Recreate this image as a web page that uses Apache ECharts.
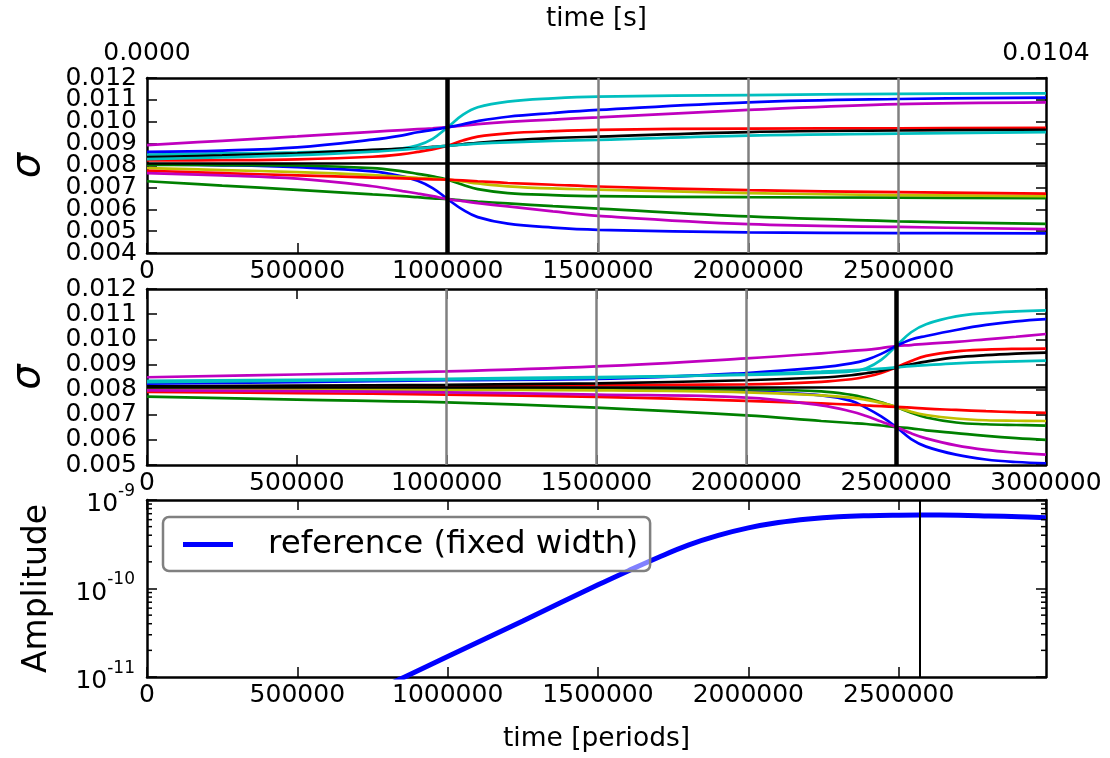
<!DOCTYPE html>
<html><head><meta charset="utf-8">
<script src="https://cdn.jsdelivr.net/npm/echarts@6/dist/echarts.min.js"></script>
<style>html,body{margin:0;padding:0;background:#fff}#c{width:1110px;height:758px}</style>
</head><body><div id="c"></div>
<script>
// ---------------- data ----------------
const periodsTop = [0, 250000, 500000, 750000, 850000, 900000, 950000, 1000000, 1050000, 1100000, 1200000, 1350000, 1500000, 2000000, 2500000, 2990000];
const topBlueA    = [0.00862, 0.00868, 0.00883, 0.00918, 0.00938, 0.00952, 0.00963, 0.00975, 0.00988, 0.01003, 0.01023, 0.01040, 0.01054, 0.01089, 0.01104, 0.01110];
const topMagentaA = [0.00893, 0.00913, 0.00933, 0.00954, 0.00962, 0.00966, 0.00970, 0.00975, 0.00982, 0.00989, 0.00999, 0.01010, 0.01020, 0.01054, 0.01081, 0.01089];
const topCyanA    = [0.00850, 0.00855, 0.00860, 0.00870, 0.00878, 0.00892, 0.00922, 0.00975, 0.01031, 0.01066, 0.01092, 0.01107, 0.01115, 0.01122, 0.01127, 0.01130];
const topRedA     = [0.00823, 0.00824, 0.00828, 0.00840, 0.00852, 0.00862, 0.00874, 0.00890, 0.00914, 0.00932, 0.00947, 0.00957, 0.00963, 0.00969, 0.00970, 0.00972];
const topBlack    = [0.00838, 0.00846, 0.00856, 0.00871, 0.00877, 0.00880, 0.00885, 0.00890, 0.00897, 0.00904, 0.00914, 0.00925, 0.00932, 0.00953, 0.00960, 0.00963];
const topCyanB    = [0.00829, 0.00837, 0.00847, 0.00863, 0.00872, 0.00878, 0.00884, 0.00890, 0.00895, 0.00900, 0.00906, 0.00912, 0.00917, 0.00937, 0.00946, 0.00953];
const topGreenA   = [0.00803, 0.00802, 0.00800, 0.00788, 0.00773, 0.00762, 0.00750, 0.00735, 0.00712, 0.00692, 0.00674, 0.00665, 0.00660, 0.00655, 0.00653, 0.00651];
const topYellow   = [0.00788, 0.00779, 0.00770, 0.00756, 0.00748, 0.00744, 0.00740, 0.00735, 0.00727, 0.00718, 0.00705, 0.00695, 0.00690, 0.00674, 0.00665, 0.00660];
const topRedB     = [0.00776, 0.00765, 0.00755, 0.00745, 0.00741, 0.00739, 0.00737, 0.00735, 0.00732, 0.00728, 0.00720, 0.00712, 0.00704, 0.00687, 0.00678, 0.00671];
const topBlueB    = [0.00805, 0.00801, 0.00792, 0.00773, 0.00750, 0.00730, 0.00697, 0.00646, 0.00598, 0.00564, 0.00534, 0.00516, 0.00506, 0.00494, 0.00491, 0.00490];
const topMagentaB = [0.00765, 0.00755, 0.00740, 0.00705, 0.00683, 0.00672, 0.00660, 0.00646, 0.00637, 0.00628, 0.00613, 0.00590, 0.00570, 0.00532, 0.00519, 0.00509];
const topGreenB   = [0.00728, 0.00708, 0.00689, 0.00668, 0.00660, 0.00655, 0.00650, 0.00646, 0.00640, 0.00635, 0.00627, 0.00614, 0.00603, 0.00567, 0.00545, 0.00533];

const periodsMid = [0, 500000, 1000000, 1500000, 2000000, 2250000, 2350000, 2400000, 2450000, 2500000, 2550000, 2600000, 2700000, 2800000, 2900000, 3000000];
const midMagentaA = [0.00849, 0.00860, 0.00872, 0.00892, 0.00924, 0.00944, 0.00954, 0.00958, 0.00965, 0.00973, 0.00977, 0.00982, 0.00990, 0.01000, 0.01010, 0.01021];
const midBlueA    = [0.00824, 0.00830, 0.00837, 0.00842, 0.00866, 0.00888, 0.00904, 0.00918, 0.00942, 0.00973, 0.00999, 0.01013, 0.01037, 0.01057, 0.01071, 0.01080];
const midCyanA    = [0.00835, 0.00839, 0.00843, 0.00850, 0.00858, 0.00866, 0.00872, 0.00885, 0.00918, 0.00973, 0.01028, 0.01060, 0.01091, 0.01104, 0.01111, 0.01115];
const midCyanB    = [0.00830, 0.00835, 0.00840, 0.00846, 0.00861, 0.00871, 0.00876, 0.00879, 0.00883, 0.00888, 0.00893, 0.00897, 0.00904, 0.00909, 0.00912, 0.00915];
const midBlack    = [0.00813, 0.00816, 0.00819, 0.00825, 0.00837, 0.00848, 0.00857, 0.00865, 0.00874, 0.00888, 0.00900, 0.00911, 0.00928, 0.00937, 0.00943, 0.00947];
const midRedA     = [0.00810, 0.00812, 0.00815, 0.00818, 0.00821, 0.00831, 0.00841, 0.00851, 0.00866, 0.00888, 0.00914, 0.00934, 0.00952, 0.00959, 0.00962, 0.00963];
const midGreenA   = [0.00808, 0.00808, 0.00808, 0.00806, 0.00801, 0.00793, 0.00779, 0.00766, 0.00749, 0.00731, 0.00708, 0.00689, 0.00669, 0.00662, 0.00659, 0.00657];
const midYellow   = [0.00803, 0.00801, 0.00799, 0.00797, 0.00789, 0.00777, 0.00768, 0.00759, 0.00747, 0.00731, 0.00712, 0.00699, 0.00685, 0.00678, 0.00676, 0.00675];
const midBlueB    = [0.00806, 0.00806, 0.00806, 0.00803, 0.00793, 0.00777, 0.00755, 0.00727, 0.00693, 0.00651, 0.00603, 0.00573, 0.00541, 0.00522, 0.00512, 0.00507];
const midMagentaB = [0.00797, 0.00794, 0.00789, 0.00780, 0.00768, 0.00737, 0.00713, 0.00695, 0.00673, 0.00651, 0.00626, 0.00606, 0.00578, 0.00560, 0.00549, 0.00541];
const midRedB     = [0.00791, 0.00786, 0.00780, 0.00771, 0.00755, 0.00745, 0.00740, 0.00737, 0.00734, 0.00731, 0.00728, 0.00724, 0.00719, 0.00714, 0.00710, 0.00707];
const midGreenB   = [0.00772, 0.00760, 0.00749, 0.00728, 0.00697, 0.00675, 0.00667, 0.00663, 0.00657, 0.00651, 0.00646, 0.00638, 0.00627, 0.00616, 0.00607, 0.00600];

const sigmaRef = 0.0081;
const topGreyMarkers = [1500000, 2000000, 2500000];
const topBlackMarkers = [1000000];
const midGreyMarkers = [1000000, 1500000, 2000000];
const midBlackMarkers = [2500000];
const ampMarkers = [2570000];

const ampName = 'reference (fixed width)';
const ampPeriods = [800000, 857000, 1000000, 1250000, 1500000, 1600000, 1700000, 1800000, 1900000, 2000000, 2100000, 2200000, 2300000, 2400000, 2500000, 2570000, 2700000, 2800000, 2900000, 2990000];
const ampValues  = [8.1e-12, 1.0e-11, 1.7e-11, 4.3e-11, 1.1e-10, 1.58e-10, 2.24e-10, 3.09e-10, 3.98e-10, 4.84e-10, 5.56e-10, 6.1e-10, 6.46e-10, 6.64e-10, 6.73e-10, 6.76e-10, 6.73e-10, 6.6e-10, 6.46e-10, 6.3e-10];
const logMinorTicks = [2e-11, 3e-11, 4e-11, 5e-11, 6e-11, 7e-11, 8e-11, 9e-11, 2e-10, 3e-10, 4e-10, 5e-10, 6e-10, 7e-10, 8e-10, 9e-10];

const secondsRange = [0, 0.0104];
const periodsMaxTop = 2990000;
const periodsMaxMid = 3000000;

// ---------------- styling ----------------
const FONT = 'DejaVu Sans';
const TICK_FS = 25;
const C = {b:'#0000ff', g:'#008000', r:'#ff0000', c:'#00bfbf', m:'#bf00bf', y:'#bfbf00', k:'#000000'};

const topLines = [
  [topBlueB, C.b], [topGreenA, C.g], [topRedA, C.r], [topCyanA, C.c], [topMagentaA, C.m], [topYellow, C.y],
  [topBlack, C.k], [topBlueA, C.b], [topGreenB, C.g], [topRedB, C.r], [topCyanB, C.c], [topMagentaB, C.m]
];
const midLines = [
  [midBlueB, C.b], [midGreenA, C.g], [midRedA, C.r], [midCyanA, C.c], [midMagentaA, C.m], [midYellow, C.y],
  [midBlack, C.k], [midBlueA, C.b], [midGreenB, C.g], [midRedB, C.r], [midCyanB, C.c], [midMagentaB, C.m]
];

const axisLine = {show: true, onZero: false, lineStyle: {color: '#000', width: 2.5}};
const tickIn = {show: true, inside: true, length: 10, lineStyle: {color: '#000', width: 1.5}};
const lblBase = {color: '#000', fontSize: TICK_FS, fontFamily: FONT, hideOverlap: false};
const intFmt = v => String(Math.round(v));

function xPeriods(grid, pos, max, showLabels, extra) {
  return Object.assign({
    type: 'value', gridIndex: grid, position: pos, min: 0, max: max, interval: 500000,
    axisLine: axisLine, axisTick: tickIn, splitLine: {show: false},
    axisLabel: Object.assign({}, lblBase, {show: showLabels, margin: 6, formatter: intFmt,
      showMinLabel: true, showMaxLabel: max % 500000 === 0})
  }, extra || {});
}
// parity: null = all labels, 0 = even thousandths only, 1 = odd thousandths only
function yLin(grid, pos, min, max, showLabels, parity, extra) {
  const fmt = v => {
    const k = Math.round(v * 1000);
    if (parity === null || k % 2 === parity) return v.toFixed(3);
    return '';
  };
  return Object.assign({
    type: 'value', gridIndex: grid, position: pos, min: min, max: max, interval: 0.001,
    axisLine: axisLine, axisTick: tickIn, splitLine: {show: false},
    axisLabel: Object.assign({}, lblBase, {show: showLabels, margin: 10, formatter: fmt,
      showMinLabel: true, showMaxLabel: true})
  }, extra || {});
}
function yLog(grid, pos, showLabels, extra) {
  return Object.assign({
    type: 'log', logBase: 10, gridIndex: grid, position: pos, min: 1e-11, max: 1e-9,
    axisLine: axisLine, axisTick: tickIn, splitLine: {show: false},
    axisLabel: {show: showLabels, margin: 12, color: '#000', fontFamily: FONT, showMinLabel: true, showMaxLabel: true,
      formatter: v => '{b|10}{s|' + Math.round(Math.log10(v)) + '}',
      rich: {b: {fontSize: TICK_FS, fontFamily: FONT, color: '#000', verticalAlign: 'bottom', lineHeight: 34},
             s: {fontSize: 17, fontFamily: FONT, color: '#000', verticalAlign: 'top', lineHeight: 17}}}
  }, extra || {});
}

function lineSeries(xi, yi, periods, vals, color) {
  return {type: 'line', xAxisIndex: xi, yAxisIndex: yi, data: periods.map((t, i) => [t, vals[i]]),
    showSymbol: false, symbol: 'none', smooth: 0.4, silent: true,
    lineStyle: {color: color, width: 2.7}, itemStyle: {color: color}, z: 2};
}
function markerSeries(xi, yi, greys, blacks, blackWidth, hLine) {
  const data = [];
  greys.forEach(v => data.push({xAxis: v, lineStyle: {color: '#808080', width: 2.5, type: 'solid'}}));
  blacks.forEach(v => data.push({xAxis: v, lineStyle: {color: '#000', width: blackWidth, type: 'solid'}}));
  if (hLine !== null) data.push({yAxis: hLine, lineStyle: {color: '#000', width: 2.5, type: 'solid'}});
  return {type: 'line', xAxisIndex: xi, yAxisIndex: yi, data: [], silent: true, z: 3,
    markLine: {symbol: ['none', 'none'], precision: 8, silent: true, animation: false, label: {show: false}, data: data}};
}

const sigmaName = {name: 'σ', nameLocation: 'middle', nameRotate: 90, nameGap: 98,
  nameTextStyle: {color: '#000', fontSize: 40, fontStyle: 'italic', fontFamily: FONT}};

// yAxis indices: 0 top-left(even labels), 1 top-right, 2 mid-left, 3 mid-right, 4 log-left, 5 log-right, 6 top-left(odd labels)
const series = [];
topLines.forEach(([v, c]) => series.push(lineSeries(0, 0, periodsTop, v, c)));
series.push(markerSeries(0, 0, topGreyMarkers, topBlackMarkers, 4.5, sigmaRef));
midLines.forEach(([v, c]) => series.push(lineSeries(2, 2, periodsMid, v, c)));
series.push(markerSeries(2, 2, midGreyMarkers, midBlackMarkers, 4.5, sigmaRef));
series.push({type: 'line', name: ampName, xAxisIndex: 4, yAxisIndex: 4,
  data: ampPeriods.map((t, i) => [t, ampValues[i]]), showSymbol: false, symbol: 'none', smooth: 0.4,
  lineStyle: {color: C.b, width: 5}, itemStyle: {color: C.b}, z: 2});
series.push(markerSeries(4, 4, [], ampMarkers, 2, null));
// log-axis minor ticks on both sides of the bottom panel
const minorData = [];
logMinorTicks.forEach(v => { minorData.push([0, v, 1]); minorData.push([periodsMaxTop, v, -1]); });
series.push({type: 'custom', xAxisIndex: 4, yAxisIndex: 4, silent: true, z: 4, data: minorData,
  renderItem: (params, api) => {
    const p = api.coord([api.value(0), api.value(1)]);
    const d = api.value(2);
    return {type: 'line', shape: {x1: p[0], y1: p[1], x2: p[0] + d * 5, y2: p[1]}, style: {stroke: '#000', lineWidth: 1.5}};
  }});

const option = {
  animation: false,
  backgroundColor: '#fff',
  grid: [
    {left: 147, top: 78, width: 899, height: 175},
    {left: 147, top: 289, width: 899, height: 176},
    {left: 147, top: 500, width: 899, height: 177}
  ],
  legend: {
    data: [ampName], left: 163, top: 517, icon: 'rect', itemWidth: 50, itemHeight: 5,
    padding: [11, 12, 10, 20], borderColor: '#808080', borderWidth: 2.5, borderRadius: 6,
    backgroundColor: 'rgba(255,255,255,0.5)', selectedMode: false,
    textStyle: {color: '#000', fontSize: 32.5, fontFamily: FONT, padding: [0, 0, 0, 30]}
  },
  xAxis: [
    xPeriods(0, 'bottom', periodsMaxTop, true),
    {type: 'value', gridIndex: 0, position: 'top', min: secondsRange[0], max: secondsRange[1], interval: secondsRange[1],
      axisLine: axisLine, axisTick: {show: false}, splitLine: {show: false},
      axisLabel: Object.assign({}, lblBase, {margin: 12, formatter: v => v.toFixed(4), showMinLabel: true, showMaxLabel: true}),
      name: 'time [s]', nameLocation: 'middle', nameGap: 46,
      nameTextStyle: {color: '#000', fontSize: 26, fontFamily: FONT}},
    xPeriods(1, 'bottom', periodsMaxMid, true),
    xPeriods(1, 'top', periodsMaxMid, false),
    xPeriods(2, 'bottom', periodsMaxTop, true, {name: 'time [periods]', nameLocation: 'middle', nameGap: 49,
      nameTextStyle: {color: '#000', fontSize: 26.5, fontFamily: FONT}}),
    xPeriods(2, 'top', periodsMaxTop, false)
  ],
  yAxis: [
    yLin(0, 'left', 0.004, 0.012, true, 0, sigmaName),
    yLin(0, 'right', 0.004, 0.012, false, null),
    yLin(1, 'left', 0.005, 0.012, true, null, sigmaName),
    yLin(1, 'right', 0.005, 0.012, false, null),
    yLog(2, 'left', true, {name: 'Amplitude', nameLocation: 'middle', nameRotate: 90, nameGap: 93,
      nameTextStyle: {color: '#000', fontSize: 33, fontFamily: FONT}}),
    yLog(2, 'right', false),
    yLin(0, 'left', 0.004, 0.012, true, 1, {offset: 0, axisLine: {show: false}, axisTick: {show: false}})
  ],
  series: series
};
const chart = echarts.init(document.getElementById('c'));
chart.setOption(option);
</script></body></html>
